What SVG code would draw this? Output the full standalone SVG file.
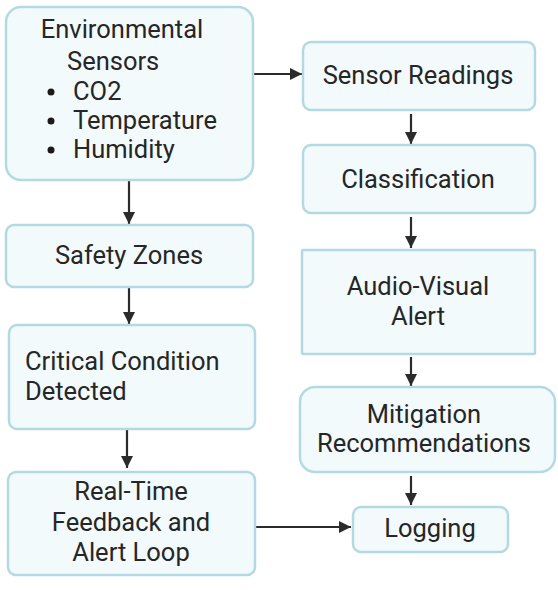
<svg xmlns="http://www.w3.org/2000/svg" width="558" height="590" viewBox="0 0 558 590">
<style>
.box{fill:#f2fafc;stroke:#b3dae2;stroke-width:2.5}
.t{font-family:Roboto,"Liberation Sans",sans-serif;font-size:25.5px;fill:#262626}
.c{text-anchor:middle}
.e{stroke:#2b2b2b;stroke-width:2.2;fill:none}
</style>
<defs>
<marker id="ah" viewBox="0 0 10 10" refX="10" refY="5" markerWidth="5.5" markerHeight="5.5" markerUnits="strokeWidth" orient="auto">
<path d="M0,0 L10,5 L0,10 z" fill="#2b2b2b"/>
</marker>
</defs>
<rect width="558" height="590" fill="#ffffff"/>
<g id="connectors">
<path class="e" d="M253,74 L302,74" marker-end="url(#ah)"/>
<path class="e" d="M129,181 L129,224" marker-end="url(#ah)"/>
<path class="e" d="M129,288 L129,324" marker-end="url(#ah)"/>
<path class="e" d="M127,430 L127,468" marker-end="url(#ah)"/>
<path class="e" d="M411,114 L411,144" marker-end="url(#ah)"/>
<path class="e" d="M411,217 L411,248" marker-end="url(#ah)"/>
<path class="e" d="M411,357 L411,386" marker-end="url(#ah)"/>
<path class="e" d="M411,476 L411,505" marker-end="url(#ah)"/>
<path class="e" d="M256,527 L351,527" marker-end="url(#ah)"/>
</g>
<g id="env">
<rect class="box" x="6" y="7" width="247" height="173" rx="15"/>
<text class="t c" x="122" y="38">Environmental</text>
<text class="t" x="67" y="70">Sensors</text>
<circle cx="51" cy="92" r="3.5" fill="#1a1a1a"/>
<text class="t" x="73" y="100">CO2</text>
<circle cx="51" cy="121" r="3.5" fill="#1a1a1a"/>
<text class="t" x="73" y="129">Temperature</text>
<circle cx="51" cy="150" r="3.5" fill="#1a1a1a"/>
<text class="t" x="73" y="158">Humidity</text>
</g>
<g id="safety">
<rect class="box" x="6" y="225" width="247" height="62" rx="8"/>
<text class="t c" x="129" y="264">Safety Zones</text>
</g>
<g id="critical">
<rect class="box" x="9" y="325" width="246" height="104" rx="8"/>
<text class="t" x="25" y="370">Critical Condition</text>
<text class="t" x="25" y="400">Detected</text>
</g>
<g id="realtime">
<rect class="box" x="8" y="472" width="247" height="103" rx="8"/>
<text class="t c" x="131" y="500">Real-Time</text>
<text class="t c" x="131" y="531">Feedback and</text>
<text class="t c" x="131" y="561">Alert Loop</text>
</g>
<g id="readings">
<rect class="box" x="303" y="42" width="232" height="68" rx="8"/>
<text class="t c" x="418" y="84">Sensor Readings</text>
</g>
<g id="classification">
<rect class="box" x="303" y="145" width="232" height="68" rx="8"/>
<text class="t c" x="418" y="188">Classification</text>
</g>
<g id="alert">
<rect class="box" x="302" y="250" width="233" height="104" rx="1"/>
<text class="t c" x="418" y="295">Audio-Visual</text>
<text class="t c" x="418" y="325">Alert</text>
</g>
<g id="mitigation">
<rect class="box" x="300" y="387" width="255" height="85" rx="15"/>
<text class="t c" x="424" y="423">Mitigation</text>
<text class="t c" x="424" y="452">Recommendations</text>
</g>
<g id="logging">
<rect class="box" x="353" y="507" width="155" height="45" rx="8"/>
<text class="t c" x="430" y="537">Logging</text>
</g>
</svg>
